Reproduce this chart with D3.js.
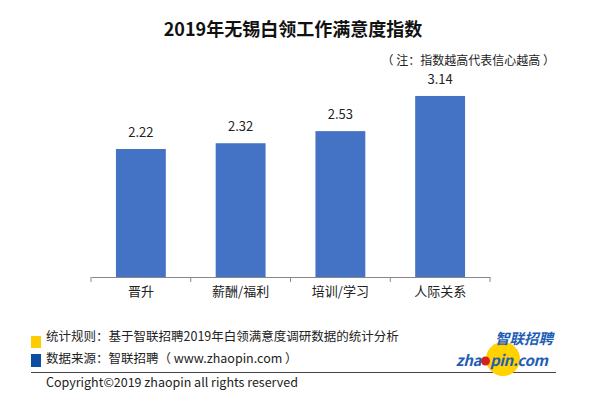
<!DOCTYPE html>
<html>
<head>
<meta charset="utf-8">
<script src="https://cdn.jsdelivr.net/npm/d3@7"></script>
<style>
  html, body { margin: 0; padding: 0; background: #fff; }
  svg { display: block; }
  text { font-family: "Noto Sans CJK SC", "Microsoft YaHei", sans-serif; }
</style>
</head>
<body>
<svg id="chart" width="600" height="402"></svg>
<script>
const categories = ["晋升", "薪酬/福利", "培训/学习", "人际关系"];
const values = [2.22, 2.32, 2.53, 3.14];
const valueLabels = ["2.22", "2.32", "2.53", "3.14"];
const titleText = "2019年无锡白领工作满意度指数";
const noteText = "（ 注：指数越高代表信心越高 ）";
const footerLines = ["统计规则：基于智联招聘2019年白领满意度调研数据的统计分析", "数据来源：智联招聘（ www.zhaopin.com ）"];
const copyrightText = "Copyright©2019 zhaopin all rights reserved";

const svg = d3.select("#chart");

const x = d3.scaleBand().domain(categories).range([91, 490]).paddingInner(0.5).paddingOuter(0.25);
const y = d3.scaleLinear().domain([0, 3.5]).range([277, 75.2]);

// title
svg.append("text").attr("x", 293).attr("y", 36).attr("text-anchor", "middle")
  .attr("font-size", 18).attr("font-weight", "bold").attr("fill", "#111").text(titleText);
svg.append("text").attr("x", 555).attr("y", 65).attr("text-anchor", "end")
  .attr("font-size", 12).attr("fill", "#222").text(noteText);

// bars
svg.selectAll("rect.bar").data(values).join("rect").attr("class", "bar")
  .attr("x", (d, i) => x(categories[i]))
  .attr("width", x.bandwidth())
  .attr("y", d => y(d))
  .attr("height", d => y(0) - y(d))
  .attr("fill", "#4472C4");

svg.selectAll("text.val").data(values).join("text").attr("class", "val")
  .attr("x", (d, i) => x(categories[i]) + x.bandwidth() / 2)
  .attr("y", d => y(d) - 12)
  .attr("text-anchor", "middle").attr("font-size", 13).attr("fill", "#222")
  .text((d, i) => valueLabels[i]);

// axis
const xb = d3.scaleBand().domain(categories).range([91, 490]);
const axisG = svg.append("g").attr("transform", `translate(0,${y(0)})`)
  .call(d3.axisBottom(xb).tickSize(0).tickSizeOuter(0).tickPadding(10));
axisG.select(".domain").attr("stroke", "#888");
axisG.selectAll(".tick text").attr("font-size", 13).attr("fill", "#222")
  .attr("font-family", "\"Noto Sans CJK SC\", sans-serif");
const bounds = [91].concat(categories.map(c => xb(c) + xb.bandwidth()));
axisG.selectAll("line.sep").data(bounds).join("line").attr("class", "sep")
  .attr("x1", d => d).attr("x2", d => d).attr("y1", 0).attr("y2", 5)
  .attr("stroke", "#888");

// footer
svg.append("rect").attr("x", 31).attr("y", 336).attr("width", 10).attr("height", 12).attr("fill", "#FFCC00");
svg.append("rect").attr("x", 31).attr("y", 354).attr("width", 10).attr("height", 13).attr("fill", "#0B4EA2");
svg.append("text").attr("x", 46).attr("y", 341).attr("font-size", 12.5).attr("fill", "#222").text(footerLines[0]);
svg.append("text").attr("x", 46).attr("y", 363).attr("font-size", 12.5).attr("fill", "#222").text(footerLines[1]);
svg.append("line").attr("x1", 31).attr("x2", 556).attr("y1", 372.5).attr("y2", 372.5).attr("stroke", "#444").attr("stroke-width", 1);
svg.append("text").attr("x", 46).attr("y", 387).attr("font-size", 12.5).attr("fill", "#222")
  .attr("font-family", "\"Noto Sans\", sans-serif").text(copyrightText);

// logo
const logo = svg.append("g");
logo.append("circle").attr("cx", 503).attr("cy", 359).attr("r", 17).attr("fill", "#FFD200");
logo.append("text").attr("x", 553).attr("y", 344).attr("text-anchor", "end").attr("font-size", 14.5)
  .attr("font-weight", "bold").attr("font-style", "italic").attr("fill", "#1F5DB5").text("智联招聘");
logo.append("text").attr("x", 481).attr("y", 366).attr("text-anchor", "end").attr("font-size", 15)
  .attr("font-weight", "bold").attr("font-style", "italic").attr("fill", "#1F5DB5")
  .attr("font-family", "\"DejaVu Sans\", sans-serif").attr("letter-spacing", -0.3).text("zha");
logo.append("circle").attr("cx", 485.5).attr("cy", 361).attr("r", 4.5).attr("fill", "#D81E1E");
logo.append("text").attr("x", 490).attr("y", 366).attr("font-size", 15)
  .attr("font-weight", "bold").attr("font-style", "italic").attr("fill", "#1F5DB5")
  .attr("font-family", "\"DejaVu Sans\", sans-serif").attr("letter-spacing", -0.3).text("pin.com");
</script>
</body>
</html>
